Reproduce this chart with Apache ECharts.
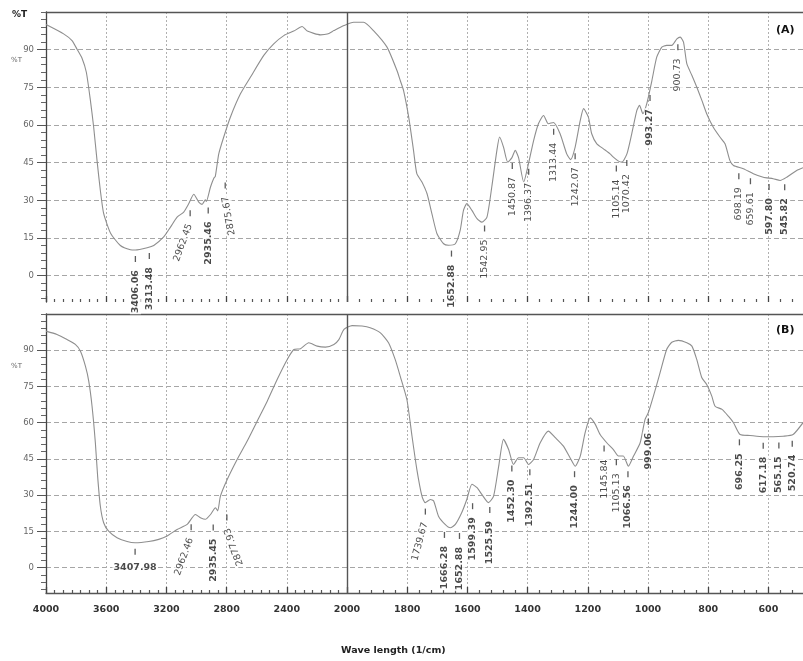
<!DOCTYPE html>
<html><head><meta charset="utf-8">
<script src="https://cdn.jsdelivr.net/npm/echarts@6/dist/echarts.min.js"></script>
<style>html,body{margin:0;padding:0;background:#fff}#c{width:803px;height:661px}</style>
</head><body><div id="c"></div>
<script>
// ---------- axis definitions ----------
const WN_MAX = 4000, WN_BREAK = 2000, WN_MIN = 485;
const xTickLabels = [4000, 3600, 3200, 2800, 2400, 2000, 1800, 1600, 1400, 1200, 1000, 800, 600];
const yTickLabels = [0, 15, 30, 45, 60, 75, 90];
const Y_MIN = -10.5, Y_MAX = 105;

// ---------- spectrum A ----------
const wavenumbersA = [4000,3883,3827,3794,3760,3732,3705,3683,3661,3639,3617,3570,3506,3439,3406,3328,3284,3218,3173,3129,3085,3052,3018,2985,2963,2941,2935,2907,2885,2875,2852,2819,2775,2708,2642,2553,2487,2420,2354,2298,2264,2176,2131,2087,2020,1978,1945,1912,1867,1834,1823,1812,1795,1779,1768,1751,1734,1718,1701,1679,1663,1640,1624,1613,1602,1585,1568,1552,1535,1519,1502,1493,1480,1466,1452,1441,1430,1413,1397,1380,1364,1347,1331,1314,1292,1270,1257,1242,1225,1214,1198,1187,1170,1148,1126,1115,1098,1087,1070,1054,1037,1028,1017,1004,987,971,954,938,921,904,893,882,871,854,838,821,805,783,761,744,728,716,683,650,617,584,561,539,506,485];
const transmittanceA = [100.0,96.3,93.6,90.2,86.5,81.0,69.8,59.0,45.9,34.0,24.8,16.8,12.0,10.3,10.2,11.1,12.0,15.4,19.3,23.3,25.3,28.6,32.4,29.3,28.4,30.2,29.5,35.3,38.8,39.5,48.5,55.2,63.1,72.4,79.0,87.7,92.3,95.6,97.4,99.2,97.4,95.9,96.2,97.6,99.6,100.9,100.9,97.6,91.0,81.7,77.7,73.7,63.1,49.9,40.6,37.3,32.6,24.7,16.7,12.7,12.1,12.7,18.0,26.0,28.7,26.0,22.7,21.3,23.3,35.3,49.9,55.2,51.2,45.2,47.0,49.9,47.0,37.3,44.6,53.8,60.5,63.8,60.5,61.0,56.5,48.5,46.2,51.2,61.8,66.5,63.1,56.5,52.5,50.5,48.5,47.2,45.6,45.2,48.5,56.5,65.8,67.8,64.5,68.5,77.7,87.0,91.0,91.7,91.7,94.3,95.0,93.0,84.4,79.7,75.1,69.8,64.5,59.1,55.2,52.5,45.9,43.9,42.6,40.6,39.2,38.6,37.9,39.2,41.9,43.0];
const peaksA = [3406.06, 3313.48, 2962.45, 2935.46, 2875.67, 1652.88, 1542.95, 1450.87, 1396.37, 1313.44, 1242.07, 1105.14, 1070.42, 993.27, 900.73, 698.19, 659.61, 597.80, 545.82];

// ---------- spectrum B ----------
const wavenumbersB = [4000,3927,3860,3805,3771,3738,3716,3694,3672,3657,3639,3617,3584,3528,3461,3408,3317,3251,3195,3129,3062,3007,2974,2941,2907,2874,2859,2841,2796,2730,2663,2597,2530,2464,2397,2353,2309,2254,2198,2143,2087,2054,2020,1983,1950,1923,1889,1862,1840,1823,1801,1784,1768,1751,1740,1723,1712,1696,1674,1657,1640,1619,1602,1585,1568,1552,1530,1513,1496,1480,1463,1447,1430,1413,1397,1380,1358,1331,1308,1281,1259,1242,1225,1209,1192,1175,1159,1137,1115,1098,1082,1065,1048,1026,1010,999,982,960,938,921,899,871,854,838,821,805,788,777,754,733,716,694,661,617,584,551,518,485];
const transmittanceB = [97.9,96.5,94.4,92.4,89.6,83.4,77.2,66.8,51.7,37.9,25.5,18.6,15.1,12.4,10.8,10.3,10.8,11.7,13.1,15.8,17.9,22.0,20.7,20.0,22.0,24.8,23.5,29.6,36.5,44.8,52.4,60.6,68.9,77.9,86.2,90.3,90.6,93.1,91.7,91.3,92.4,94.4,98.6,100.2,100.0,99.3,97.2,93.1,86.2,79.2,69.6,54.4,40.7,29.6,26.9,28.2,27.6,21.3,17.9,16.5,17.9,22.7,28.2,34.5,33.1,30.3,26.9,29.6,42.0,53.1,48.9,42.7,45.5,45.5,42.7,44.8,51.7,56.5,53.8,50.3,45.5,42.0,46.2,55.8,62.0,59.3,55.1,51.7,48.9,46.2,46.2,42.0,46.2,51.7,61.3,64.1,71.0,80.6,90.3,93.3,94.1,93.1,91.7,86.2,78.6,75.8,71.0,66.8,65.5,62.7,60.0,55.1,54.7,54.2,54.2,54.4,55.1,60.0];
const peaksB = [3407.98, 2962.46, 2935.45, 2877.93, 1739.67, 1666.28, 1652.88, 1599.39, 1525.59, 1452.30, 1392.51, 1244.00, 1145.84, 1105.13, 1066.56, 999.06, 696.25, 617.18, 565.15, 520.74];

// ---------- label styling (not data) ----------
const styleA = {
  bold: new Set(['3406.06','3313.48','2935.46','1652.88','993.27','597.80','545.82']),
  rotate: {'2962.45': 70, '2875.67': 100},
  shift: {'2962.45': -12, '2935.46': 2, '2875.67': 10},
  horizontal: new Set()
};
const styleB = {
  bold: new Set(['3407.98','2935.45','1666.28','1652.88','1599.39','1525.59','1452.30','1392.51','1244.00','1066.56','999.06','696.25','617.18','565.15','520.74']),
  rotate: {'2962.46': 70, '2877.93': 110, '1739.67': 75},
  shift: {'2962.46': -11, '2935.45': 7, '2877.93': 12, '1666.28': -3, '1652.88': 8, '1599.39': 5},
  horizontal: new Set(['3407.98'])
};

// ---------- scale with break at 2000 (right part expanded x2) ----------
function toU(w) { return w >= WN_BREAK ? WN_MAX - w : (WN_MAX - WN_BREAK) + 2 * (WN_BREAK - w); }
function fromU(u) { const s = WN_MAX - WN_BREAK; return u <= s ? WN_MAX - u : WN_BREAK - (u - s) / 2; }
function valueAt(ws, vs, w) {
  for (let i = 0; i < ws.length - 1; i++) {
    if (w <= ws[i] && w >= ws[i + 1]) {
      const t = (ws[i] - w) / (ws[i] - ws[i + 1]);
      return vs[i] + t * (vs[i + 1] - vs[i]);
    }
  }
  return vs[vs.length - 1];
}

const majorXU = xTickLabels.map(toU);
const minorXU = [];
for (let i = 0; i < xTickLabels.length - 1; i++) {
  const a = xTickLabels[i], b = xTickLabels[i + 1];
  const n = a > WN_BREAK ? 7 : 5;
  for (let j = 1; j < n; j++) minorXU.push(toU(a - (a - b) * j / n));
}
for (let w = xTickLabels[xTickLabels.length - 1] - 40; w >= WN_MIN; w -= 40) minorXU.push(toU(w));
const minorY = [];
for (let v = -9; v <= Y_MAX; v += 3) if (!yTickLabels.includes(v)) minorY.push(v);

const U_MIN = toU(WN_MAX), U_MAX = toU(WN_MIN);
const FONT = 'DejaVu Sans';

function xAxesFor(p, showLabels) {
  return [
    { gridIndex: p, type: 'value', min: U_MIN, max: U_MAX, position: 'bottom',
      axisLine: { show: showLabels, onZero: false, lineStyle: { color: '#555', width: 1.3 } },
      axisTick: { show: true, inside: true, length: 6, customValues: majorXU, lineStyle: { color: '#444', width: 1.3 } },
      axisLabel: { show: showLabels, customValues: majorXU, margin: 12,
        formatter: v => String(Math.round(fromU(v))), fontFamily: FONT, fontWeight: 'bold', fontSize: 9.5, color: '#333' },
      splitLine: { show: true, lineStyle: { color: '#b0b0b0', type: [2, 2], width: 1 } } },
    { gridIndex: p, type: 'value', min: U_MIN, max: U_MAX, position: 'bottom',
      axisLine: { show: false, onZero: false },
      axisTick: { show: true, inside: true, length: 3, customValues: minorXU, lineStyle: { color: '#555', width: 1.2 } },
      axisLabel: { show: false }, splitLine: { show: false } },
    { gridIndex: p, type: 'value', min: U_MIN, max: U_MAX, position: 'top',
      axisLine: { show: true, onZero: false, lineStyle: { color: '#555', width: 1.3 } },
      axisTick: { show: false }, axisLabel: { show: false }, splitLine: { show: false } }
  ];
}
function yAxesFor(p) {
  return [
    { gridIndex: p, type: 'value', min: Y_MIN, max: Y_MAX, position: 'left',
      axisLine: { show: true, onZero: false, lineStyle: { color: '#444', width: 1.3 } },
      axisTick: { show: true, length: 9, customValues: yTickLabels, lineStyle: { color: '#555' } },
      axisLabel: { show: true, customValues: yTickLabels, margin: 12, fontFamily: FONT, fontSize: 8.5, color: '#666' },
      splitLine: { show: true, lineStyle: { color: '#a6a6a6', type: [5, 3], width: 1 } } },
    { gridIndex: p, type: 'value', min: Y_MIN, max: Y_MAX, position: 'left',
      axisLine: { show: false, onZero: false },
      axisTick: { show: true, length: 5, customValues: minorY, lineStyle: { color: '#666' } },
      axisLabel: { show: false }, splitLine: { show: false } }
  ];
}

function lineSeries(p, ws, vs) {
  return {
    type: 'line', xAxisIndex: 3 * p, yAxisIndex: 2 * p, silent: true, z: 3,
    showSymbol: false, symbol: 'none', smooth: 0.2,
    lineStyle: { color: '#8e8e8e', width: 1.1 },
    data: ws.map((w, i) => [toU(w), vs[i]]),
    markLine: { silent: true, symbol: ['none', 'none'], label: { show: false },
      lineStyle: { type: 'solid', color: '#555', width: 1.4 },
      data: [{ xAxis: toU(WN_BREAK) }] }
  };
}
function peakSeries(p, ws, vs, peaks, st) {
  return {
    type: 'scatter', xAxisIndex: 3 * p, yAxisIndex: 2 * p, silent: true, z: 6, clip: false,
    symbol: 'rect', symbolSize: [1.3, 6],
    itemStyle: { color: '#333' },
    label: { show: true, position: 'bottom', distance: 7, formatter: '{b}',
      fontFamily: FONT, fontSize: 9.5, color: '#1c1c1c', backgroundColor: '#fff', padding: [1, 1, 0, 1] },
    data: peaks.map(pk => {
      const txt = pk.toFixed(2);
      const horiz = st.horizontal.has(txt);
      const rot = horiz ? 0 : (st.rotate[txt] != null ? st.rotate[txt] : 90);
      return {
        name: txt,
        value: [toU(pk), valueAt(ws, vs, pk)],
        symbolOffset: [st.shift[txt] || 0, 9],
        label: {
          rotate: rot,
          align: horiz ? 'center' : 'right',
          verticalAlign: horiz ? 'top' : 'middle',
          fontWeight: st.bold.has(txt) ? 'bold' : 'normal'
        }
      };
    })
  };
}

const chart = echarts.init(document.getElementById('c'), null, { renderer: 'canvas' });
chart.setOption({
  animation: false,
  backgroundColor: '#fff',
  grid: [
    { left: 46, right: 0, top: 12, height: 290 },
    { left: 46, right: 0, top: 314, height: 279 }
  ],
  xAxis: [...xAxesFor(0, false), ...xAxesFor(1, true)],
  yAxis: [...yAxesFor(0), ...yAxesFor(1)],
  series: [
    lineSeries(0, wavenumbersA, transmittanceA),
    peakSeries(0, wavenumbersA, transmittanceA, peaksA, styleA),
    lineSeries(1, wavenumbersB, transmittanceB),
    peakSeries(1, wavenumbersB, transmittanceB, peaksB, styleB)
  ],
  graphic: [
    { type: 'text', left: 12, top: 10, style: { text: '%T', font: 'bold 9px "DejaVu Sans"', fill: '#222' } },
    { type: 'text', left: 11, top: 57, style: { text: '%T', font: '7px "DejaVu Sans"', fill: '#666' } },
    { type: 'text', left: 11, top: 363, style: { text: '%T', font: '7px "DejaVu Sans"', fill: '#666' } },
    { type: 'text', left: 776, top: 25, style: { text: '(A)', font: 'bold 11px "DejaVu Sans"', fill: '#111' } },
    { type: 'text', left: 776, top: 325, style: { text: '(B)', font: 'bold 11px "DejaVu Sans"', fill: '#111' } },
    { type: 'text', left: 341, top: 646, style: { text: 'Wave length (1/cm)', font: 'bold 9.5px "DejaVu Sans"', fill: '#222' } }
  ]
});
</script>
</body></html>
